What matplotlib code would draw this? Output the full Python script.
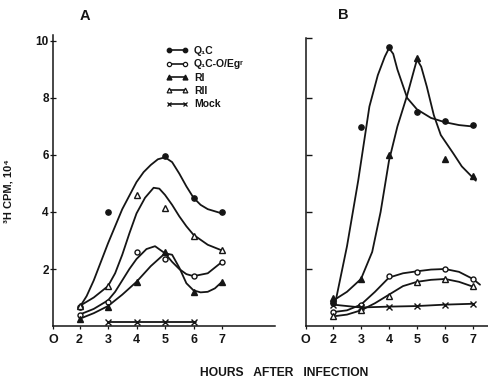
import matplotlib
matplotlib.use("Agg")
import matplotlib.pyplot as plt
import numpy as np
from matplotlib.lines import Line2D

plt.rcParams['font.family'] = ['Liberation Sans', 'DejaVu Sans']
plt.rcParams['font.weight'] = 'bold'

hours = [2, 3, 4, 5, 6, 7]
nan = np.nan

# Panel A - measured points
a_qc = [0.65, 4.0, nan, 5.95, 4.5, 4.0]
a_qco = [0.4, 0.85, 2.6, 2.35, 1.75, 2.25]
a_r1 = [0.25, 0.65, 1.55, 2.6, 1.2, 1.55]
a_r2 = [0.7, 1.4, 4.6, 4.15, 3.15, 2.65]
a_mock = [nan, 0.15, 0.15, 0.15, 0.15, nan]

# Panel A - hand drawn curves
a_qc_cx = [2, 2.25, 2.5, 2.75, 3, 3.5, 4, 4.25, 4.5, 4.75, 5, 5.25, 5.5, 5.75, 6, 6.25, 6.5, 7]
a_qc_cy = [0.65, 1.05, 1.6, 2.25, 2.9, 4.1, 5.05, 5.4, 5.65, 5.85, 5.92, 5.75, 5.35, 4.9, 4.5, 4.25, 4.1, 3.95]
a_r2_cx = [2, 2.5, 3, 3.25, 3.5, 3.75, 4, 4.3, 4.6, 4.8, 5, 5.25, 5.5, 5.75, 6, 6.5, 7]
a_r2_cy = [0.7, 1.0, 1.4, 1.85, 2.5, 3.25, 3.95, 4.5, 4.85, 4.82, 4.6, 4.25, 3.85, 3.5, 3.2, 2.85, 2.65]
a_qco_cx = [2, 2.5, 3, 3.25, 3.5, 3.75, 4, 4.35, 4.65, 5, 5.25, 5.5, 5.75, 6, 6.5, 7]
a_qco_cy = [0.4, 0.6, 0.9, 1.2, 1.6, 2.0, 2.35, 2.7, 2.8, 2.55, 2.25, 2.0, 1.82, 1.75, 1.85, 2.25]
a_r1_cx = [2, 2.5, 3, 3.5, 4, 4.5, 5, 5.25, 5.5, 5.75, 6, 6.25, 6.5, 6.75, 7]
a_r1_cy = [0.25, 0.45, 0.7, 1.1, 1.55, 2.1, 2.55, 2.5, 2.05, 1.5, 1.25, 1.18, 1.2, 1.32, 1.55]
a_mock_cx = [3, 6.1]
a_mock_cy = [0.15, 0.15]

# Panel B - measured points
b_qc = [0.8, 7.0, 9.8, 7.5, 7.2, 7.05]
b_qco = [0.5, 0.75, 1.75, 1.9, 2.0, 1.65]
b_r1 = [1.0, 1.65, 6.0, 9.4, 5.85, 5.25]
b_r2 = [0.35, 0.55, 1.05, 1.55, 1.65, 1.4]
b_mock = [0.75, 0.65, 0.68, 0.7, 0.75, 0.78]

# Panel B - hand drawn curves
b_qc_cx = [2.1, 2.5, 2.9, 3.3, 3.6, 3.85, 4.0, 4.15, 4.3, 4.65, 5.0, 5.5, 6.0, 6.5, 7.0]
b_qc_cy = [0.9, 2.8, 5.1, 7.7, 8.8, 9.45, 9.75, 9.55, 9.0, 8.0, 7.6, 7.3, 7.15, 7.05, 7.0]
b_r1_cx = [2.1, 2.5, 3, 3.4, 3.7, 4.0, 4.3, 4.65, 4.9, 5.0, 5.15, 5.35, 5.6, 5.85, 6.3, 6.6, 7.0, 7.1]
b_r1_cy = [0.95, 1.2, 1.65, 2.6, 4.0, 5.8, 7.0, 8.1, 9.0, 9.35, 9.1, 8.4, 7.4, 6.7, 6.05, 5.6, 5.2, 5.1]
b_qco_cx = [2.1, 2.5, 3, 3.5, 4, 4.5, 5, 5.5, 6, 6.5, 7, 7.25]
b_qco_cy = [0.5, 0.55, 0.75, 1.2, 1.7, 1.85, 1.92, 1.98, 2.0, 1.9, 1.65, 1.45]
b_r2_cx = [2.1, 2.5, 3, 3.5, 4, 4.5, 5, 5.5, 6, 6.5, 7]
b_r2_cy = [0.35, 0.4, 0.55, 0.8, 1.1, 1.4, 1.55, 1.62, 1.65, 1.55, 1.38]

labels = ['Q\u2081C', 'Q\u2081C-O/Eg\u02b3', 'RI', 'RII', 'Mock']
INK = '#151515'

PX = 28.5  # pixels per y unit
W, H = 488, 380
fig = plt.figure(figsize=(4.88, 3.8), dpi=100)

a_top = 10.2
b_top = 10.1
axA = fig.add_axes([53 / W, 54 / H, 222 / W, a_top * PX / H])
axB = fig.add_axes([305.7 / W, 54 / H, (W - 305.7) / W, b_top * PX / H])

styles = {
    'qc': dict(marker='o', mfc=INK, ms=3.8),
    'qco': dict(marker='o', mfc='white', ms=3.6),
    'r1': dict(marker='^', mfc=INK, ms=4.2),
    'r2': dict(marker='^', mfc='white', ms=4.0),
    'mock': dict(marker='x', mfc=INK, ms=4.2),
}

def draw(ax, pts, curves):
    for key, (cx, cy) in curves.items():
        ax.plot(cx, cy, color=INK, lw=1.3, solid_joinstyle='round',
                solid_capstyle='round', zorder=2)
    for key, vals in pts.items():
        st = styles[key]
        ax.plot(hours, vals, ls='none', marker=st['marker'], mfc=st['mfc'],
                mec=INK, ms=st['ms'], mew=1.0, zorder=3)

draw(axA,
     {'qc': a_qc, 'qco': a_qco, 'r1': a_r1, 'r2': a_r2, 'mock': a_mock},
     {'qc': (a_qc_cx, a_qc_cy), 'qco': (a_qco_cx, a_qco_cy),
      'r1': (a_r1_cx, a_r1_cy), 'r2': (a_r2_cx, a_r2_cy),
      'mock': (a_mock_cx, a_mock_cy)})
draw(axB,
     {'qc': b_qc, 'qco': b_qco, 'r1': b_r1, 'r2': b_r2, 'mock': b_mock},
     {'qc': (b_qc_cx, b_qc_cy), 'qco': (b_qco_cx, b_qco_cy),
      'r1': (b_r1_cx, b_r1_cy), 'r2': (b_r2_cx, b_r2_cy),
      'mock': (hours, b_mock)})

# axes styling
axA.set_xlim(1.07, 1.07 + 222 / PX)
axA.set_ylim(0, a_top)
axB.set_xlim(1.025, 1.025 + (W - 305.7) / 28)
axB.set_ylim(0, b_top)

for ax in (axA, axB):
    for s in ('top', 'right'):
        ax.spines[s].set_visible(False)
    for s in ('left', 'bottom'):
        ax.spines[s].set_color(INK)
        ax.spines[s].set_linewidth(1.1)
    ax.set_xticks([ax.get_xlim()[0]] + hours)
    ax.set_xticklabels(['O'] + [str(h) for h in hours], fontsize=9,
                       fontweight='bold', color=INK)
    ax.tick_params(axis='x', direction='out', length=2.5, width=0.9, pad=3,
                   color=INK)

axA.set_yticks([2, 4, 6, 8, 10])
axA.set_yticklabels(['2', '4', '6', '8', '10'], fontsize=8.5,
                    fontweight='bold', color=INK)
axA.tick_params(axis='y', direction='inout', length=4, width=0.9, pad=1,
                color=INK)
axB.set_yticks([2, 4, 6, 8, b_top])
axB.set_yticklabels([])
axB.tick_params(axis='y', direction='in', length=4, width=1.0, color=INK)

# legend
handles = [Line2D([0], [0], color=INK, lw=1.2, marker=styles[k]['marker'],
                  mfc=styles[k]['mfc'], mec=INK, ms=styles[k]['ms'] * 0.85,
                  mew=0.9)
           for k in ('qc', 'qco', 'r1', 'r2', 'mock')]
leg = fig.legend(handles, labels, loc='upper left',
                 bbox_to_anchor=(166 / W, 1 - 46 / H), frameon=False,
                 numpoints=2, handlelength=2.1, handletextpad=0.6,
                 labelspacing=0.32, borderpad=0, borderaxespad=0,
                 prop={'size': 7.5, 'weight': 'bold'})
for t in leg.get_texts():
    t.set_color(INK)

# titles and axis labels
fig.text(85 / W, 1 - 16 / H, 'A', ha='center', va='center', fontsize=10.5,
         fontweight='bold', color=INK)
fig.text(343 / W, 1 - 15 / H, 'B', ha='center', va='center', fontsize=10.5,
         fontweight='bold', color=INK)
fig.text(9 / W, 1 - 191 / H, '\u00b3H CPM, 10\u2074', rotation=90,
         ha='center', va='center', fontsize=8, fontweight='bold', color=INK)
fig.text(284 / W, 1 - 373 / H, 'HOURS   AFTER   INFECTION', ha='center',
         va='center', fontsize=8.7, fontweight='bold', color=INK)

fig.savefig('out.png', dpi=100)
